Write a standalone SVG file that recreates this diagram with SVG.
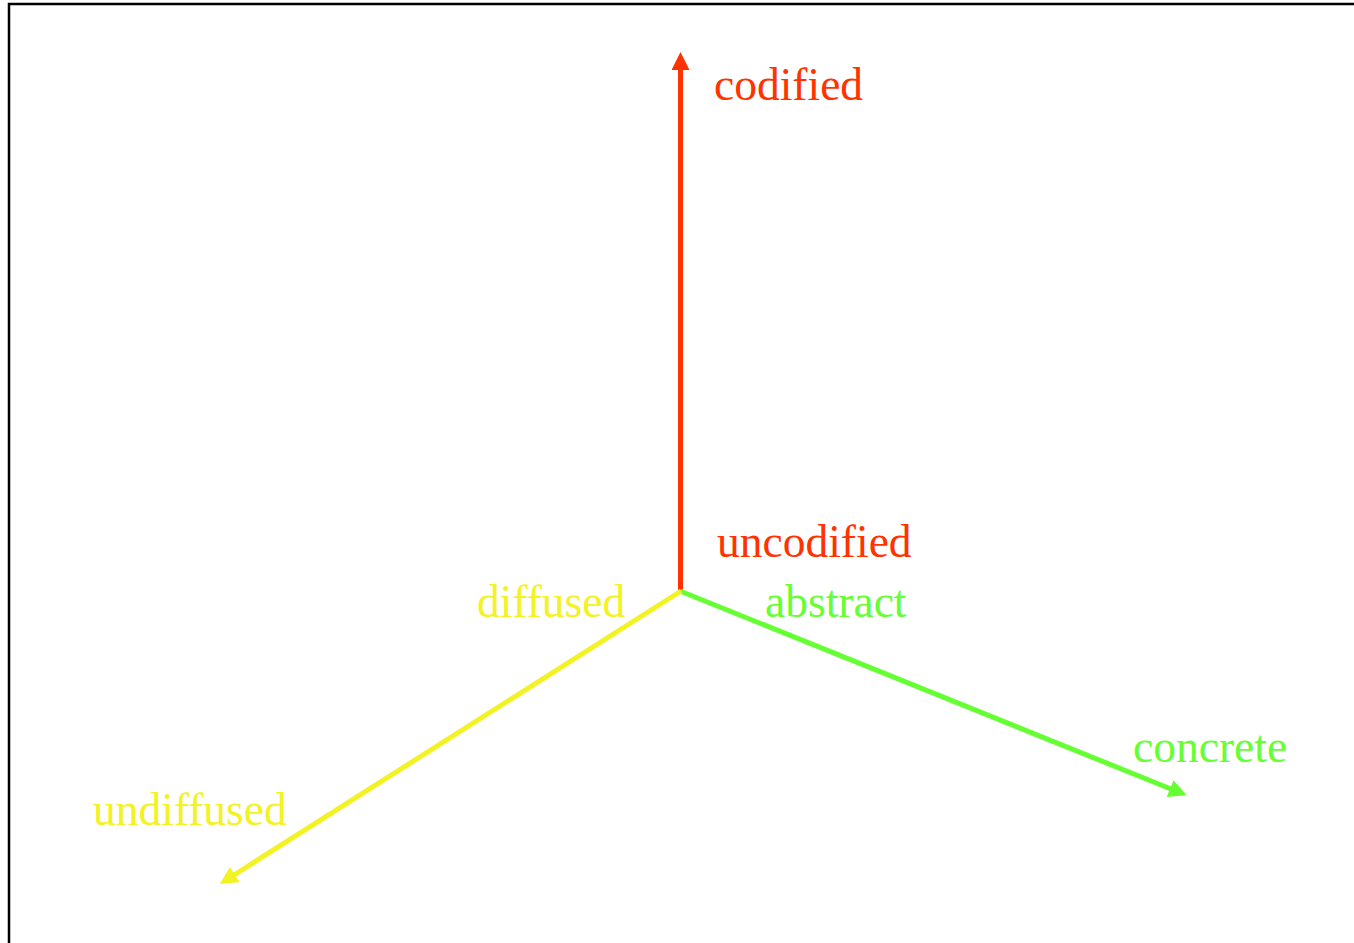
<svg xmlns="http://www.w3.org/2000/svg" width="1354" height="943" viewBox="0 0 1354 943">
  <style>
    .lbl { font-family: "Liberation Serif", "Times New Roman", serif; font-size: 45.5px; }
    .red { fill: #ff3300; }
    .yel { fill: #f2f224; }
    .grn { fill: #66ff33; }
    .axis { fill: none; stroke-linecap: butt; stroke-width: 5; }
  </style>
  <defs>
    <marker id="headRed" markerUnits="userSpaceOnUse" markerWidth="18" markerHeight="18" viewBox="0 0 18 18" refX="1" refY="9" orient="auto">
      <path d="M0,0 L18,9 L0,18 z" fill="#ff3300"/>
    </marker>
    <marker id="headYel" markerUnits="userSpaceOnUse" markerWidth="18" markerHeight="18" viewBox="0 0 18 18" refX="1" refY="9" orient="auto">
      <path d="M0,0 L18,9 L0,18 z" fill="#f2f224"/>
    </marker>
    <marker id="headGrn" markerUnits="userSpaceOnUse" markerWidth="18" markerHeight="18" viewBox="0 0 18 18" refX="1" refY="9" orient="auto">
      <path d="M0,0 L18,9 L0,18 z" fill="#66ff33"/>
    </marker>
  </defs>

  <rect width="1354" height="943" fill="#ffffff"/>
  <!-- frame: only top and left edges fall inside the canvas -->
  <path d="M9,945 V4 H1356" fill="none" stroke="#000000" stroke-width="2.5"/>

  <g id="connectors">
    <line class="axis" x1="680.5" y1="594" x2="680.5" y2="69" stroke="#ff3300" marker-end="url(#headRed)"/>
    <line class="axis" x1="680" y1="591" x2="1171" y2="789" stroke="#66ff33" marker-end="url(#headGrn)"/>
    <line class="axis" x1="681" y1="591" x2="234" y2="875" stroke="#f2f224" marker-end="url(#headYel)"/>
  </g>

  <g id="codified"><text class="lbl red" x="714" y="100">codified</text></g>
  <g id="uncodified"><text class="lbl red" x="717" y="557">uncodified</text></g>
  <g id="diffused"><text class="lbl yel" x="477" y="617">diffused</text></g>
  <g id="abstract"><text class="lbl grn" x="765" y="617">abstract</text></g>
  <g id="concrete"><text class="lbl grn" x="1133" y="762">concrete</text></g>
  <g id="undiffused"><text class="lbl yel" x="93" y="825">undiffused</text></g>
</svg>
